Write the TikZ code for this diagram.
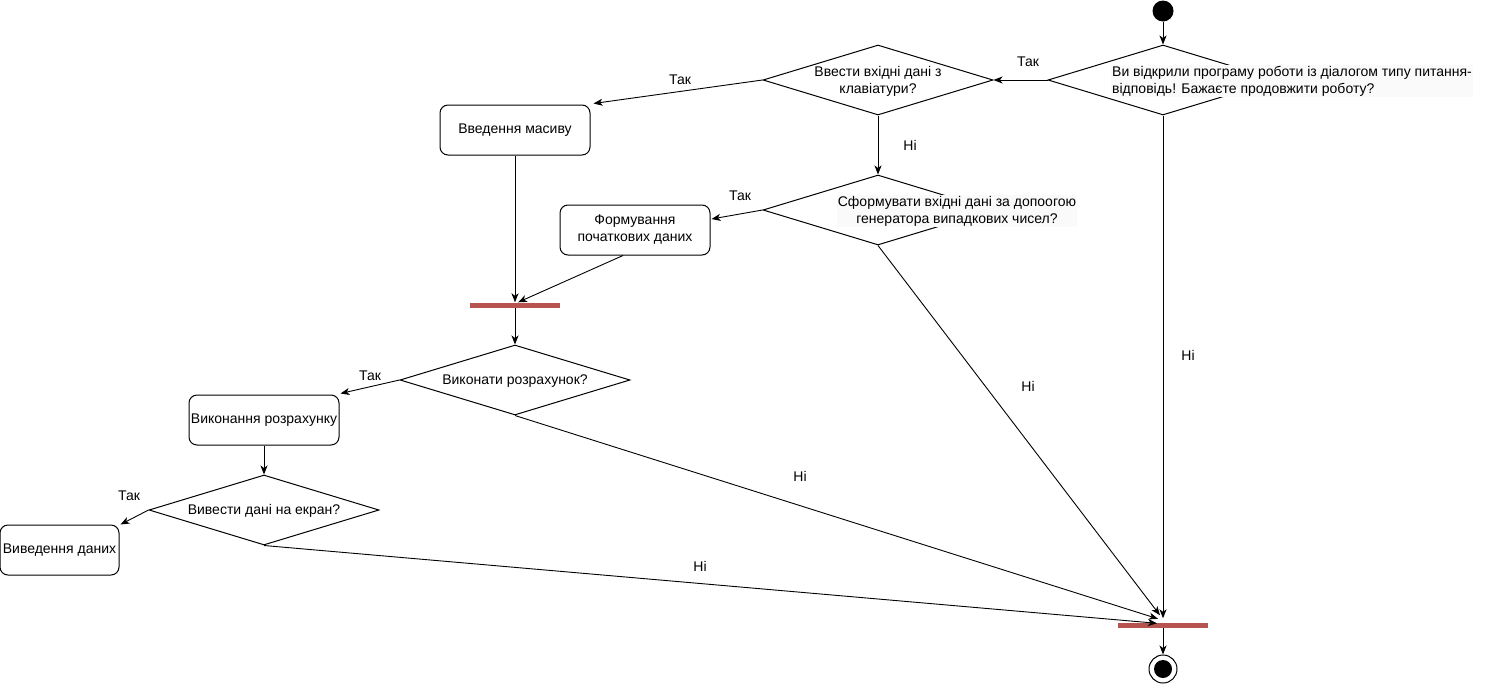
\documentclass[tikz,border=0pt]{standalone}
\usepackage{fontspec}
\setmainfont{Liberation Sans}
\usetikzlibrary{shapes.geometric,arrows.meta}
\definecolor{barred}{RGB}{184,84,80}
\definecolor{lblbg}{RGB}{250,250,251}
\begin{document}
\begin{tikzpicture}[x=1pt,y=-1pt,
  every node/.style={font=\fontsize{14}{17}\selectfont},
  dec/.style={draw, diamond, minimum width=230pt, minimum height=70pt, inner sep=0pt, line width=1pt},
  act/.style={draw, rounded corners=8pt, minimum width=150pt, minimum height=50pt, align=center, inner sep=1pt, line width=1pt},
  bar/.style={fill=barred, minimum width=90pt, minimum height=5pt, inner sep=0pt},
  flow/.style={-{Stealth[length=9pt,width=7pt,inset=2.5pt]}, line width=0.9pt},
  lbl/.style={inner sep=1pt},
  dtext/.style={fill=lblbg, inner sep=1pt, align=center}
]
\path[use as bounding box] (0,0) rectangle (1491,686);

% nodes
\node[circle, fill, minimum size=21pt, inner sep=0pt] (start) at (1163,11) {};
\node[dec] (d1) at (1163,80) {};
\node[dtext, align=left] (t1) at (1292,81) {Ви відкрили програму роботи із діалогом типу питання-\\відповідь! Бажаєте продовжити роботу?};
\node[dec] (d2) at (878,80) {};
\node[inner sep=1pt, align=center] (t2) at (878,81) {Ввести вхідні дані з\\клавіатури?};
\node[act] (a1) at (515,130) {Введення масиву};
\node[dec] (d3) at (878,210) {};
\node[dtext] (t3) at (957,211) {Сформувати вхідні дані за допоогою\\генератора випадкових чисел?};
\node[act] (a2) at (635,230) {Формування\\початкових даних};
\node[bar] (b1) at (515,305) {};
\node[dec] (d4) at (515,380) {};
\node[inner sep=1pt] (t4) at (515,381) {Виконати розрахунок?};
\node[act] (a3) at (264,420) {Виконання розрахунку};
\node[dec] (d5) at (264,510) {};
\node[inner sep=1pt] (t5) at (264,511) {Вивести дані на екран?};
\node[act, minimum width=119pt, inner sep=0.5pt] (a4) at (59.5,550) {Виведення даних};
\node[bar] (b2) at (1163,625) {};
\node[circle, draw, minimum size=28pt, inner sep=0pt, line width=1pt] (end) at (1163,669) {};
\node[circle, fill, minimum size=18pt, inner sep=0pt] (endin) at (end) {};

% connectors
\draw[flow] (start) -- (d1.north);
\draw[flow] (d1.west) -- (d2.east);
\draw[flow] (d2.west) -- ([xshift=3pt,yshift=1pt]a1.north east);
\draw[flow] (d2.south) -- (d3.north);
\draw[flow] (d3.west) -- ([xshift=1pt,yshift=11pt]a2.east);
\draw[flow] (a1.south) -- (b1.north);
\draw[flow] ([xshift=-12pt]a2.south) -- ([xshift=3pt]b1.north);
\draw[flow] (b1.south) -- (d4.north);
\draw[flow] (d4.west) -- ([xshift=1pt,yshift=1pt]a3.north east);
\draw[flow] (a3.south) -- (d5.north);
\draw[flow] (d5.west) -- ([xshift=1pt]a4.north east);
\draw[flow] (d1.south) -- ([yshift=4pt]b2.north);
\draw[flow] (d3.south) -- ([xshift=-3pt,yshift=7pt]b2.north);
\draw[flow] (d4.south) -- ([xshift=-5pt,yshift=3.5pt]b2.north);
\draw[flow] (d5.south) -- ([xshift=-6pt,yshift=-1pt]b2.north);
\draw[flow] (b2.south) -- (end.north);

% labels
\node[lbl] (l1) at (1028,62) {Так};
\node[lbl] (l2) at (680,80) {Так};
\node[lbl] (l3) at (910,145) {Ні};
\node[lbl] (l4) at (740,196) {Так};
\node[lbl] (l5) at (370,376) {Так};
\node[lbl] (l6) at (129,496) {Так};
\node[lbl] (l7) at (1188,355) {Ні};
\node[lbl] (l8) at (1028,386) {Ні};
\node[lbl] (l9) at (800,476) {Ні};
\node[lbl] (l10) at (700,566) {Ні};
\end{tikzpicture}
\end{document}
